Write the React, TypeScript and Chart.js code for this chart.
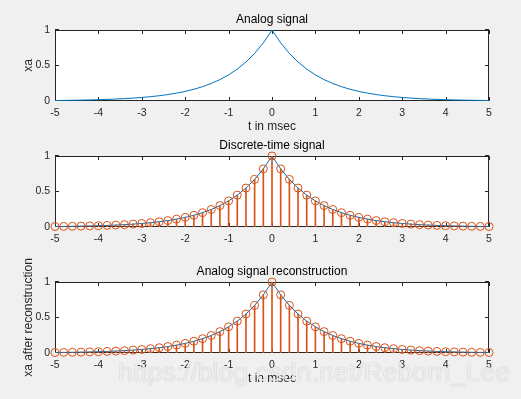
import React, { useEffect, useRef } from "react";
import { Chart, registerables } from "chart.js";

Chart.register(...registerables);

// time samples in msec (Ts = 0.2 ms)
const sampleTimes = [
  -5, -4.8, -4.6, -4.4, -4.2, -4, -3.8, -3.6, -3.4, -3.2, -3, -2.8, -2.6, -2.4, -2.2, -2,
  -1.8, -1.6, -1.4, -1.2, -1, -0.8, -0.6, -0.4, -0.2, 0, 0.2, 0.4, 0.6, 0.8, 1, 1.2, 1.4,
  1.6, 1.8, 2, 2.2, 2.4, 2.6, 2.8, 3, 3.2, 3.4, 3.6, 3.8, 4, 4.2, 4.4, 4.6, 4.8, 5,
];

// analog signal xa(t)
const analogValues = [
  0.0067, 0.0082, 0.0101, 0.0123, 0.015, 0.0183, 0.0224, 0.0273, 0.0334, 0.0408, 0.0498,
  0.0608, 0.0743, 0.0907, 0.1108, 0.1353, 0.1653, 0.2019, 0.2466, 0.3012, 0.3679, 0.4493,
  0.5488, 0.6703, 0.8187, 1, 0.8187, 0.6703, 0.5488, 0.4493, 0.3679, 0.3012, 0.2466, 0.2019,
  0.1653, 0.1353, 0.1108, 0.0907, 0.0743, 0.0608, 0.0498, 0.0408, 0.0334, 0.0273, 0.0224,
  0.0183, 0.015, 0.0123, 0.0101, 0.0082, 0.0067,
];

// discrete-time samples x(n)
const sampledValues = [
  0.0067, 0.0082, 0.0101, 0.0123, 0.015, 0.0183, 0.0224, 0.0273, 0.0334, 0.0408, 0.0498,
  0.0608, 0.0743, 0.0907, 0.1108, 0.1353, 0.1653, 0.2019, 0.2466, 0.3012, 0.3679, 0.4493,
  0.5488, 0.6703, 0.8187, 1, 0.8187, 0.6703, 0.5488, 0.4493, 0.3679, 0.3012, 0.2466, 0.2019,
  0.1653, 0.1353, 0.1108, 0.0907, 0.0743, 0.0608, 0.0498, 0.0408, 0.0334, 0.0273, 0.0224,
  0.0183, 0.015, 0.0123, 0.0101, 0.0082, 0.0067,
];

// reconstructed analog signal
const reconstructedValues = [
  0.0067, 0.0082, 0.0101, 0.0123, 0.015, 0.0183, 0.0224, 0.0273, 0.0334, 0.0408, 0.0498,
  0.0608, 0.0743, 0.0907, 0.1108, 0.1353, 0.1653, 0.2019, 0.2466, 0.3012, 0.3679, 0.4493,
  0.5488, 0.6703, 0.8187, 1, 0.8187, 0.6703, 0.5488, 0.4493, 0.3679, 0.3012, 0.2466, 0.2019,
  0.1653, 0.1353, 0.1108, 0.0907, 0.0743, 0.0608, 0.0498, 0.0408, 0.0334, 0.0273, 0.0224,
  0.0183, 0.015, 0.0123, 0.0101, 0.0082, 0.0067,
];

const xTickValues = [-5, -4, -3, -2, -1, 0, 1, 2, 3, 4, 5];
const yTickValues = [0, 0.5, 1];

const W = 521;
const H = 399;
const FONT = "'Liberation Sans', Arial, Helvetica, sans-serif";
const AXIS_COLOR = "#262626";
const BLUE = "#0072BD";
const ORANGE = "#D95319";

type Panel = {
  top: number;
  bottom: number;
  title: string;
  xLabel?: string;
  yLabel?: string;
  line: number[];
  stems?: number[];
};

const panels: Panel[] = [
  { top: 30, bottom: 101, title: "Analog signal", xLabel: "t in msec", yLabel: "xa", line: analogValues },
  { top: 156, bottom: 227, title: "Discrete-time signal", line: analogValues, stems: sampledValues },
  {
    top: 282,
    bottom: 353,
    title: "Analog signal reconstruction",
    xLabel: "t in msec",
    yLabel: "xa after reconstruction",
    line: reconstructedValues,
    stems: sampledValues,
  },
];

const framePlugin = {
  id: "matlabFrame",
  beforeDatasetsDraw(chart: any) {
    const { ctx, chartArea } = chart;
    const { left, right, top, bottom } = chartArea;
    const xs = chart.scales.x;
    const ys = chart.scales.y;
    ctx.save();
    ctx.fillStyle = "#ffffff";
    ctx.fillRect(left, top, right - left, bottom - top);
    ctx.strokeStyle = AXIS_COLOR;
    ctx.lineWidth = 1;
    ctx.strokeRect(left + 0.5, top + 0.5, right - left - 1, bottom - top - 1);
    ctx.beginPath();
    const tl = 4;
    xTickValues.forEach((v) => {
      const px = Math.round(xs.getPixelForValue(v)) + 0.5;
      ctx.moveTo(px, bottom);
      ctx.lineTo(px, bottom - tl);
      ctx.moveTo(px, top);
      ctx.lineTo(px, top + tl);
    });
    yTickValues.forEach((v) => {
      const py = Math.round(ys.getPixelForValue(v)) - 0.5;
      ctx.moveTo(left, py);
      ctx.lineTo(left + tl, py);
      ctx.moveTo(right, py);
      ctx.lineTo(right - tl, py);
    });
    ctx.stroke();
    ctx.restore();
  },
  afterDraw(chart: any) {
    const panel: Panel = chart.options.plugins.matlabFrame.panel;
    const { ctx, chartArea } = chart;
    const { left, right, top, bottom } = chartArea;
    const cx = (left + right) / 2;
    ctx.save();
    ctx.textAlign = "center";
    ctx.textBaseline = "middle";
    ctx.fillStyle = "#000000";
    ctx.font = `12px ${FONT}`;
    ctx.fillText(panel.title, cx, top - 10);
    ctx.fillStyle = AXIS_COLOR;
    if (panel.xLabel) ctx.fillText(panel.xLabel, cx, bottom + 26);
    if (panel.yLabel) {
      ctx.translate(29, (top + bottom) / 2);
      ctx.rotate(-Math.PI / 2);
      ctx.fillText(panel.yLabel, 0, 0);
    }
    ctx.restore();
  },
};

function buildChart(canvas: HTMLCanvasElement, panel: Panel) {
  const datasets: any[] = [
    {
      type: "line",
      data: sampleTimes.map((t, i) => ({ x: t, y: panel.line[i] })),
      borderColor: BLUE,
      borderWidth: 1,
      pointRadius: 0,
      tension: 0,
      order: 3,
    },
  ];
  if (panel.stems) {
    const pts = sampleTimes.map((t, i) => ({ x: t, y: panel.stems![i] }));
    datasets.push({
      type: "bar",
      data: pts,
      backgroundColor: ORANGE,
      barThickness: 1,
      grouped: false,
      order: 2,
    });
    datasets.push({
      type: "scatter",
      data: pts,
      pointRadius: 4,
      pointHoverRadius: 4,
      borderColor: ORANGE,
      backgroundColor: "rgba(0,0,0,0)",
      borderWidth: 1,
      showLine: false,
      clip: false,
      order: 1,
    });
  }
  return new Chart(canvas, {
    type: "scatter",
    data: { datasets },
    plugins: [framePlugin],
    options: {
      responsive: false,
      animation: false,
      events: [],
      layout: { padding: { left: 0, right: W - 489, top: panel.top, bottom: H - panel.bottom - 20 } },
      plugins: {
        legend: { display: false },
        tooltip: { enabled: false },
        title: { display: false },
        matlabFrame: { panel },
      } as any,
      scales: {
        x: {
          type: "linear",
          min: -5,
          max: 5,
          offset: false,
          afterBuildTicks: (s: any) => {
            s.ticks = xTickValues.map((v) => ({ value: v }));
          },
          afterFit: (s: any) => {
            s.height = 20;
          },
          ticks: {
            autoSkip: false,
            maxRotation: 0,
            padding: 6,
            color: AXIS_COLOR,
            font: { family: FONT, size: 10.5 },
            callback: (v: any) => String(v),
          },
          grid: { display: false, drawTicks: false, offset: false },
          border: { display: false },
        },
        y: {
          type: "linear",
          min: 0,
          max: 1,
          afterBuildTicks: (s: any) => {
            s.ticks = yTickValues.map((v) => ({ value: v }));
          },
          afterFit: (s: any) => {
            s.width = 55;
          },
          ticks: {
            padding: 5,
            color: AXIS_COLOR,
            font: { family: FONT, size: 10.5 },
            callback: (v: any) => String(v),
          },
          grid: { display: false, drawTicks: false },
          border: { display: false },
        },
      },
    } as any,
  });
}

export default function App() {
  const refs = [useRef<HTMLCanvasElement>(null), useRef<HTMLCanvasElement>(null), useRef<HTMLCanvasElement>(null)];
  useEffect(() => {
    const charts = panels.map((p, i) => buildChart(refs[i].current!, p));
    return () => charts.forEach((c) => c.destroy());
  }, []);
  return (
    <div
      style={{
        position: "fixed",
        left: 0,
        top: 0,
        width: W,
        height: H,
        background: "#f0f0f0",
        overflow: "hidden",
      }}
    >
      {panels.map((p, i) => (
        <canvas
          key={i}
          ref={refs[i]}
          width={W}
          height={H}
          style={{ position: "absolute", left: 0, top: 0, width: W, height: H }}
        />
      ))}
      <div
        style={{
          position: "absolute",
          left: 118,
          top: 359,
          fontFamily: FONT,
          fontSize: 26.6,
          lineHeight: 1,
          whiteSpace: "nowrap",
          color: "rgba(255,255,255,0.8)",
          textShadow: "0 0 1px rgba(0,0,0,0.35)",
          pointerEvents: "none",
        }}
      >
        https://blog.csdn.net/Reborn_Lee
      </div>
    </div>
  );
}
